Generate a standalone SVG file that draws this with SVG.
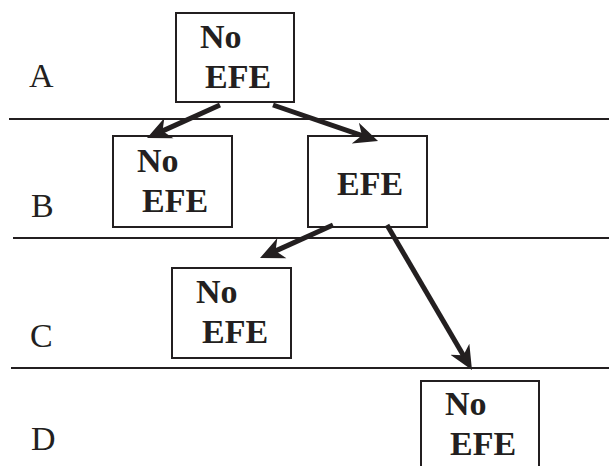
<svg xmlns="http://www.w3.org/2000/svg" width="609" height="466" viewBox="0 0 609 466">
<style>
.box{fill:#fff;stroke:#231f20;stroke-width:2}
.sep{stroke:#231f20;stroke-width:2}
.t{font-weight:bold;font-size:34px;fill:#231f20}
.lab{font-size:34px;fill:#231f20}
.arr{stroke:#231f20;stroke-width:5;fill:none;marker-end:url(#ah)}
</style>
<defs>
<marker id="ah" markerUnits="userSpaceOnUse" markerWidth="25" markerHeight="24" viewBox="0 -12 25 24" refX="8" refY="0" orient="auto">
<path d="M24,0 L0,-11 L7,0 L0,11 Z" fill="#231f20"/>
</marker>
</defs>
<g id="rows" font-family="Liberation Serif, Times New Roman, Tinos, DejaVu Serif, serif">
<line class="sep" x1="9" y1="119" x2="609" y2="119"/>
<line class="sep" x1="13" y1="238" x2="609" y2="238"/>
<line class="sep" x1="11" y1="368" x2="609" y2="368"/>
<text class="lab" x="29" y="87">A</text>
<text class="lab" x="31" y="217">B</text>
<text class="lab" x="30" y="347">C</text>
<text class="lab" x="31" y="450">D</text>
</g>
<g id="nodes" font-family="Liberation Serif, Times New Roman, Tinos, DejaVu Serif, serif">
<g id="nodeA">
<rect class="box" x="176" y="13" width="118" height="89"/>
<text class="t" x="200" y="48">No</text>
<text class="t" x="205" y="88">EFE</text>
</g>
<g id="nodeB1">
<rect class="box" x="113" y="136" width="119" height="91"/>
<text class="t" x="137" y="172">No</text>
<text class="t" x="142" y="212">EFE</text>
</g>
<g id="nodeB2">
<rect class="box" x="308" y="136" width="119" height="91"/>
<text class="t" x="337" y="195">EFE</text>
</g>
<g id="nodeC">
<rect class="box" x="172" y="268" width="119" height="90"/>
<text class="t" x="196" y="303">No</text>
<text class="t" x="202" y="343">EFE</text>
</g>
<g id="nodeD">
<rect class="box" x="421" y="381" width="118" height="95"/>
<text class="t" x="445" y="415">No</text>
<text class="t" x="450" y="455">EFE</text>
</g>
</g>
<g id="connectors">
<line class="arr" x1="220" y1="105" x2="161.6" y2="131.4"/>
<line class="arr" x1="273" y1="105" x2="362.9" y2="135.8"/>
<line class="arr" x1="333" y1="225" x2="274.6" y2="251.4"/>
<line class="arr" x1="387" y1="225" x2="463.9" y2="356.2"/>
</g>
</svg>
